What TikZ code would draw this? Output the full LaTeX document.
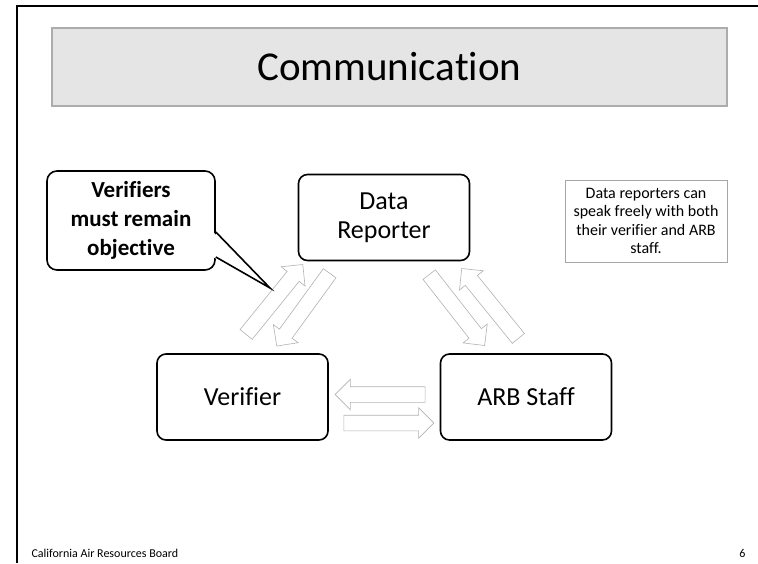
\documentclass[tikz,border=0pt]{standalone}
\usepackage{fontspec}
\setmainfont{Carlito}[Ligatures=CommonOff]
\usetikzlibrary{positioning}
\usetikzlibrary{shapes}

\tikzset{
  party/.style = {draw, rounded corners=9pt, line width=1.6pt, minimum width=171pt, minimum height=86pt, align=center, inner sep=0pt, font=\fontsize{26}{29}\selectfont},
  blockarrow/.style = {single arrow, draw=gray!60, fill=white, line width=0.6pt, minimum height=90pt, text height=15pt, text depth=0pt, single arrow head extend=7.5pt, inner sep=0pt},
}

\begin{document}
\begin{tikzpicture}[x=1pt, y=-1pt]
\useasboundingbox (0,0) rectangle (758,563);

% slide frame
\draw[line width=2.4pt] (17,563) -- (17,6) -- (758,6);

% title bar
\node[draw=gray!65, line width=2pt, fill=black!10, minimum width=675pt, minimum height=78pt, font=\fontsize{41}{45}\selectfont] (title) at (389.5,67) {Communication};

% the three parties
\node[party] (reporter) at (384,217.5) {Data\\Reporter};
\node[party] (verifier) at (242.5,397) {Verifier};
\node[party] (arb) at (526,397) {ARB Staff};

% block arrows
\node[blockarrow, rotate=51] (vToR) at (272,302.5) {};
\node[blockarrow, rotate=234] (rToV) at (305.5,306.5) {};
\node[blockarrow, rotate=-52] (rToA) at (454.5,307) {};
\node[blockarrow, rotate=129] (aToR) at (492.5,306.5) {};
\node[blockarrow, rotate=180] (aToV) at (384,394.5) {};
\node[blockarrow] (vToA) at (385,423) {};

% callout
\node[draw, rounded corners=10pt, line width=1.6pt, minimum width=168pt, minimum height=99pt, align=center, font=\bfseries\fontsize{23}{29}\selectfont] (callout) at (131,220.5) {Verifiers\\must remain\\objective};
\coordinate (tip) at (270,288);
\fill[white] (213,232) -- (tip) -- (213,257) -- cycle;
\draw[line width=1.6pt, line join=miter] ([yshift=-11.5pt]callout.east) -- (tip) -- ([yshift=-36.5pt]callout.east);

% note
\node[draw=gray!70, line width=0.8pt, minimum width=162pt, minimum height=82pt, align=center, inner sep=0pt, font=\fontsize{16}{18.5}\selectfont] (note) at (646,221) {Data reporters can\\speak freely with both\\their verifier and ARB\\staff.};

% footer
\node[anchor=west, font=\fontsize{12}{14}\selectfont] (board) at (28,553) {California Air Resources Board};
\node[anchor=east, font=\fontsize{12}{14}\selectfont] (page) at (749,553) {6};

\end{tikzpicture}
\end{document}
